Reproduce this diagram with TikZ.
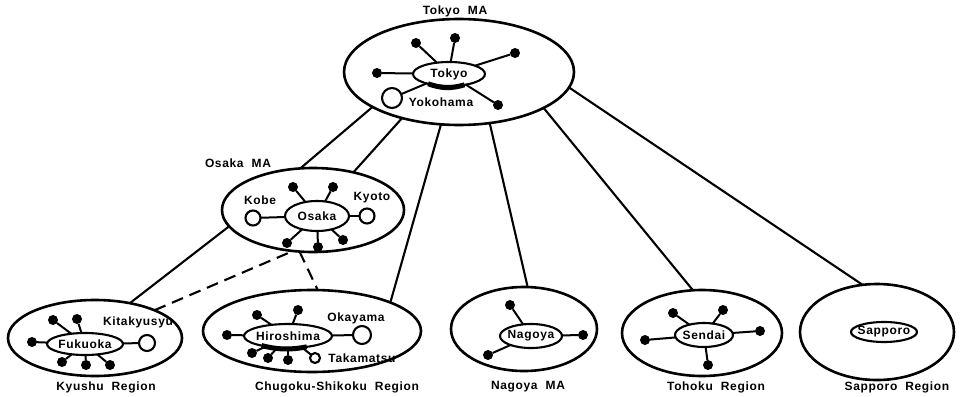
\documentclass[tikz,border=0pt]{standalone}
\usepackage{fontspec}
\setmainfont[LetterSpace=5.5]{Liberation Sans}
\usetikzlibrary{shapes.geometric}
\tikzset{
  region/.style={draw, ellipse, line width=2.6pt, inner sep=0pt, outer sep=0pt},
  city/.style={draw, ellipse, line width=2.1pt, inner ysep=0pt, inner xsep=-4pt, outer sep=0pt, font=\bfseries\fontsize{12}{13}\selectfont},
  dotn/.style={circle, fill=black, inner sep=0pt, minimum size=10pt, outer sep=0pt},
  ring/.style={circle, draw, line width=2.1pt, inner sep=0pt, outer sep=0pt},
  spoke/.style={line width=2pt},
  link/.style={line width=2.1pt},
  dlink/.style={line width=2.1pt, dash pattern=on 12pt off 7pt},
  smear/.style={line width=5pt},
  lbl/.style={inner sep=0pt, font=\bfseries\fontsize{12}{13}\selectfont}
}
\newcommand{\wsp}{\hspace{8pt}}
\begin{document}
\begin{tikzpicture}[x=1pt,y=-1pt]
\useasboundingbox (0,0) rectangle (960,396);

% ---------- Tokyo MA ----------
\node[region, minimum width=230pt, minimum height=106pt] (tma) at (459,72) {};
\node[lbl] (tmalbl) at (455,11) {Tokyo\wsp MA};
\node[city, minimum width=72pt, minimum height=24pt] (tokyo) at (449,74) {Tokyo};
\node[dotn] (t1) at (416,43) {};
\node[dotn] (t2) at (455,38) {};
\node[dotn] (t3) at (515,53) {};
\node[dotn] (t4) at (377,73) {};
\node[dotn] (t5) at (498,105) {};
\node[ring, minimum size=20pt] (yoko) at (392,98) {};
\node[lbl] (yokolbl) at (441,102) {Yokohama};
\draw[spoke] (tokyo) -- (t1);
\draw[spoke] (tokyo.82) -- (t2);
\draw[spoke] (tokyo) -- (t3);
\draw[spoke] (tokyo) -- (t4);
\draw[spoke] (tokyo) -- (t5);
\draw[spoke] (tokyo) -- (yoko);
\draw[smear] (tokyo.205) to[bend right=18] (tokyo.325);

% ---------- Osaka MA ----------
\node[region, minimum width=182pt, minimum height=84pt] (oma) at (313,210) {};
\node[lbl] (omalbl) at (238,163) {Osaka\wsp MA};
\node[city, minimum width=64pt, minimum height=30pt] (osaka) at (317,216) {Osaka};
\node[ring, minimum size=15pt] (kobe) at (253,218) {};
\node[lbl] (kobelbl) at (260,200) {Kobe};
\node[ring, minimum size=15pt] (kyoto) at (367,216) {};
\node[lbl] (kyotolbl) at (372,198) {Kyoto};
\node[dotn] (o1) at (293,187) {};
\node[dotn] (o2) at (333,187) {};
\node[dotn] (o3) at (287,243) {};
\node[dotn] (o4) at (318,247) {};
\node[dotn] (o5) at (343,240) {};
\draw[spoke] (osaka) -- (kobe);
\draw[spoke] (osaka) -- (kyoto);
\foreach \d in {o1,o2,o3,o4,o5} \draw[spoke] (osaka) -- (\d);

% ---------- Kyushu Region ----------
\node[region, minimum width=174pt, minimum height=76pt] (kr) at (95,338) {};
\node[lbl] (krlbl) at (106,387) {Kyushu\wsp Region};
\node[city, minimum width=76pt, minimum height=22pt] (fukuoka) at (85,344) {Fukuoka};
\node[ring, minimum size=16pt] (kita) at (147,343) {};
\node[lbl] (kitalbl) at (138,322) {Kitakyusyu};
\node[dotn] (k1) at (53,320) {};
\node[dotn] (k2) at (77,319) {};
\node[dotn] (k3) at (32,342) {};
\node[dotn] (k4) at (62,362) {};
\node[dotn] (k5) at (86,365) {};
\node[dotn] (k6) at (110,365) {};
\draw[spoke] (fukuoka) -- (kita);
\foreach \d in {k1,k2,k3,k4,k5,k6} \draw[spoke] (fukuoka) -- (\d);

% ---------- Chugoku-Shikoku Region ----------
\node[region, minimum width=218pt, minimum height=82pt] (cr) at (312,331) {};
\node[lbl] (crlbl) at (337,387) {Chugoku-Shikoku\wsp Region};
\node[city, minimum width=88pt, minimum height=24pt] (hiro) at (288,336) {Hiroshima};
\node[ring, minimum size=18pt] (okayama) at (362,335) {};
\node[lbl] (okalbl) at (356,318) {Okayama};
\node[ring, minimum size=10pt] (taka) at (315,358) {};
\node[lbl] (takalbl) at (362,358) {Takamatsu};
\node[dotn] (h1) at (257,315) {};
\node[dotn] (h2) at (298,310) {};
\node[dotn] (h3) at (227,335) {};
\node[dotn] (h4) at (252,353) {};
\node[dotn] (h5) at (268,358) {};
\node[dotn] (h6) at (288,360) {};
\draw[spoke] (hiro) -- (okayama);
\draw[spoke] (hiro) -- (taka);
\foreach \d in {h1,h2,h3,h4,h5,h6} \draw[spoke] (hiro) -- (\d);
\draw[smear] (hiro.200) to[bend right=12] (hiro.330);

% ---------- Nagoya MA ----------
\node[region, minimum width=146pt, minimum height=84pt] (nr) at (524,329) {};
\node[lbl] (nrlbl) at (528,387) {Nagoya\wsp MA};
\node[city, minimum width=62pt, minimum height=24pt] (nagoya) at (531,336) {Nagoya};
\node[dotn] (n1) at (510,305) {};
\node[dotn] (n2) at (583,335) {};
\node[dotn] (n3) at (488,355) {};
\foreach \d in {n1,n2,n3} \draw[spoke] (nagoya) -- (\d);

% ---------- Tohoku Region ----------
\node[region, minimum width=160pt, minimum height=86pt] (tr) at (702,333) {};
\node[lbl] (trlbl) at (716,387) {Tohoku\wsp Region};
\node[city, minimum width=58pt, minimum height=24pt] (sendai) at (704,335) {Sendai};
\node[dotn] (s1) at (673,313) {};
\node[dotn] (s2) at (723,310) {};
\node[dotn] (s3) at (760,331) {};
\node[dotn] (s4) at (645,340) {};
\node[dotn] (s5) at (708,365) {};
\foreach \d in {s1,s2,s3,s4,s5} \draw[spoke] (sendai) -- (\d);

% ---------- Sapporo Region ----------
\node[region, minimum width=154pt, minimum height=96pt] (sr) at (877,332) {};
\node[lbl] (srlbl) at (897,387) {Sapporo\wsp Region};
\node[city, minimum width=66pt, minimum height=20pt] (sapporo) at (884,332) {Sapporo};

% ---------- connectors ----------
\draw[link] (tma.202) -- (oma.107);
\draw[link] (tma.219) -- (oma.43);
\draw[link] (tma.251) -- (cr.20);
\draw[link] (tma.301) -- (nr.85);
\draw[link] (tma.337) -- (tr.102);
\draw[link] (tma.352) -- (sr.107);
\draw[link] (oma.191) -- (kr.45);
\draw[dlink] (kr.25) -- (oma.244);
\draw[dlink] (oma.252) -- (cr.82);
\end{tikzpicture}
\end{document}
